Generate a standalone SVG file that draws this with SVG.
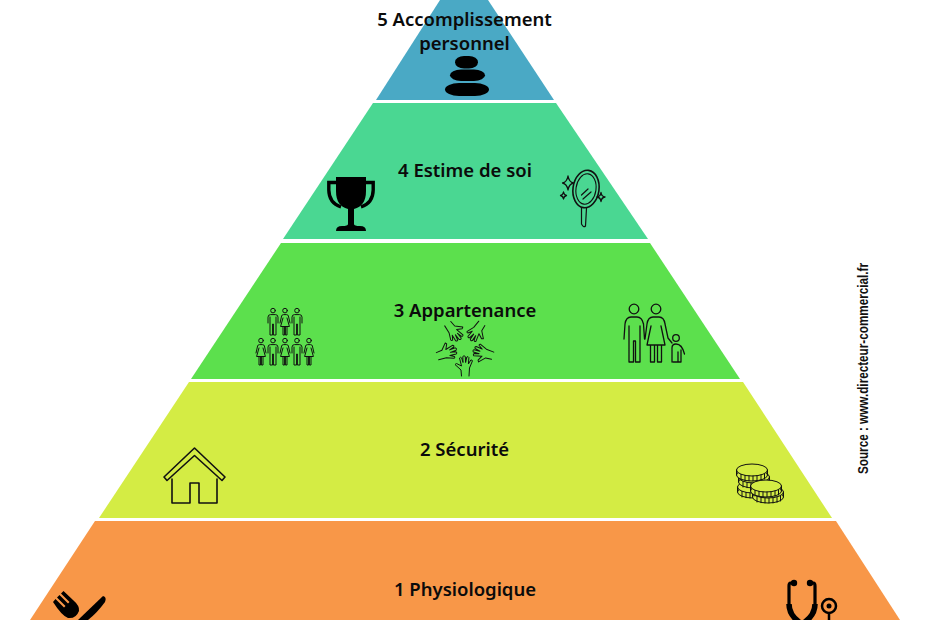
<svg xmlns="http://www.w3.org/2000/svg" xmlns:xlink="http://www.w3.org/1999/xlink" width="930" height="620" viewBox="0 0 930 620">
<style>
.lbl{font-family:"Noto Sans","Open Sans","Liberation Sans",sans-serif;font-weight:600;font-size:18.5px;fill:#0b0b0b;text-anchor:middle}
.ln{fill:none;stroke:#111;stroke-width:1.6;stroke-linejoin:round;stroke-linecap:round}
.th{fill:none;stroke:#111;stroke-width:1;stroke-linejoin:round;stroke-linecap:round}
.blk{fill:#000}
</style>
<defs>
<g id="man" class="th"><circle cx="0" cy="2.6" r="2.3"/><path d="M-5 15V9.2Q-5 6.6-2.4 6.6H2.4Q5 6.6 5 9.2V15M-3 9V27H-.4V16H.4V27H3V9"/></g>
<g id="woman" class="th"><circle cx="0" cy="2.6" r="2.3"/><path d="M-5 15L-3.4 8Q-3 6.6-1.5 6.6H1.5Q3 6.6 3.4 8L5 15M-2 10L-4.4 18.5H4.4L2 10M-2 18.5V27H-.4V18.5M.4 18.5V27H2V18.5"/></g>
<g id="hand" class="th"><path d="M-3.500 29L-4 23L-10 17.500L-8.500 16.500L-3.500 19L-5.500 11Q-4.500 9.500-3.300 11L-2 15.500L-2.200 9.500Q-1 8 .3 9.500L.6 15.500L1.800 10Q3.200 9 3.900 10.500L3.400 17L5.800 13Q7.200 12.500 7.400 14L4.500 21L4 29"/></g>
<g id="coin"><ellipse cx="0" cy="5" rx="15.500" ry="6" fill="#D4EC44" stroke="#111" stroke-width="1"/><ellipse cx="0" cy="0" rx="15.500" ry="6" fill="#D4EC44" stroke="#111" stroke-width="1"/><path d="M-15.500 0V5M-11 4.300V10M-7 5.400V10.700M-3 5.900V11M1 6V11M5 5.700V10.900M9 5V10.300M12.500 4V9M15.500 0V5" class="th"/></g>
</defs>

<g id="tier-5"><polygon points="440,0 488,0 554,100 376,100" fill="#4AA9C5"/>
<text class="lbl" x="464.500" y="26">5 Accomplissement</text><text class="lbl" x="464.500" y="50">personnel</text>
<g id="stones" class="blk"><rect x="455" y="56" width="23" height="12.500" rx="9" ry="6.200"/><rect x="450" y="69.500" width="35" height="11.500" rx="11" ry="5.700"/><rect x="445" y="83" width="44" height="13" rx="14" ry="6.500"/></g></g>

<g id="tier-4"><polygon points="373,103 556,103 648,239 283,239" fill="#4AD792"/>
<text class="lbl" x="465" y="177">4 Estime de soi</text>
<g id="trophy"><path class="blk" d="M336 177H366V191Q366 206 354 209V224Q354 226 360 226Q366 226 366 231H336Q336 226 342 226Q348 226 348 224V209Q336 206 336 191Z"/><path d="M337 182.500H328.800V190Q329 203 341 207M365 182.500H373.200V190Q373 203 361 207" fill="none" stroke="#000" stroke-width="3.400"/></g>
<g id="mirror" class="ln"><ellipse cx="586" cy="189" rx="13" ry="18.800" transform="rotate(8 586 189)"/><ellipse cx="586" cy="189" rx="10" ry="15.300" transform="rotate(8 586 189)" stroke-width="1.100"/><path d="M581.500 207.500L581.500 224Q583.500 228 585.500 226L586.500 208M581.500 195L588 189M583 199L591 192" stroke-width="1.200"/><path d="M568 176Q569 182 573.500 183Q569 184 568 190Q567 184 562.500 183Q567 182 568 176ZM563.500 192Q564 195 566.500 195.500Q564 196 563.500 199Q563 196 560.500 195.500Q563 195 563.500 192ZM601 192.500Q601.500 196.500 605 197Q601.500 197.500 601 201.500Q600.500 197.500 597 197Q600.500 196.500 601 192.500Z" stroke-width="1.300"/></g></g>

<g id="tier-3"><polygon points="281,243 650,243 740,379 191,379" fill="#5CE04D"/>
<text class="lbl" x="465" y="317">3 Appartenance</text>
<g id="crowd"><use xlink:href="#man" x="273" y="308"/><use xlink:href="#woman" x="285" y="308"/><use xlink:href="#man" x="297" y="308"/><use xlink:href="#woman" x="261" y="338"/><use xlink:href="#man" x="273" y="338"/><use xlink:href="#woman" x="285" y="338"/><use xlink:href="#man" x="297" y="338"/><use xlink:href="#woman" x="309" y="338"/></g>
<g id="hands" transform="translate(465 347)"><use xlink:href="#hand"/><use xlink:href="#hand" transform="rotate(72)"/><use xlink:href="#hand" transform="rotate(144)"/><use xlink:href="#hand" transform="rotate(216)"/><use xlink:href="#hand" transform="rotate(288)"/></g>
<g id="family" class="ln" style="stroke-width:1.300"><circle cx="634" cy="309" r="4.800"/><circle cx="656" cy="309" r="4.800"/><circle cx="676" cy="338" r="3.300"/><path d="M624 339L625 324Q626 317 631 317H637Q642 317 643.500 324L644.500 339M629 326V362H633.500V341H635.500V362H640V326M645 339L647 324Q648 317 653 317H659Q664 317 665 324L668 338M651 326L647 345H665L661 326M650.500 345V362H654.500V345M657.500 345V362H661.500V345M668 338L672 343M672 362V348Q672 344 676 344Q682 344 684.500 354M673 362H678V352M678 362H681V350"/></g></g>

<g id="tier-2"><polygon points="189,382 743,382 832,518 99,518" fill="#D4EC44"/>
<text class="lbl" x="464.500" y="456">2 Sécurité</text>
<g id="house" class="ln"><path d="M172 479V503H190V483H199V503H217V479M164 477L194.500 448L225 477L222 480.500L194.500 455.500L167 480.500Z"/></g>
<g id="coins"><use xlink:href="#coin" x="753" y="487"/><use xlink:href="#coin" x="754" y="477"/><use xlink:href="#coin" x="752" y="470"/><use xlink:href="#coin" x="768" y="492"/><use xlink:href="#coin" x="766" y="486"/></g></g>

<g id="tier-1"><polygon points="95,521 836,521 900,620 30,620" fill="#F89748"/>
<text class="lbl" x="465" y="596">1 Physiologique</text>
<g id="cutlery" class="blk"><path d="M103 596Q107 597 105 602Q97 613 88 620H78Z"/><path d="M53 602L55.500 599L64 607.500L65.500 606L57 597.500L59.500 595L68 603.500L69.500 602L61 593.500L63.500 591L73 600Q80 606 79 611Q76 619 68 618Q62 616 53 602Z"/></g>
<g id="stethoscope"><path d="M794 583H790.500Q789 583 789 586V604M815 604V586Q815 583 813.500 583H810" fill="none" stroke="#000" stroke-width="3.200"/><path d="M789 604Q789 616 802 624Q815 616 815 604" fill="none" stroke="#000" stroke-width="5.500"/><circle cx="794" cy="583" r="3.200" class="blk"/><circle cx="810" cy="583" r="3.200" class="blk"/><circle cx="829" cy="606" r="7" fill="none" stroke="#000" stroke-width="2.500"/><circle cx="829" cy="606" r="2.500" class="blk"/><path d="M829 613V620" stroke="#000" stroke-width="2.500"/></g></g>

<text id="source" transform="translate(868 474) rotate(-90)" font-family="'Liberation Sans',Arial,sans-serif" font-weight="700" font-size="14.500" fill="#111" textLength="211" lengthAdjust="spacingAndGlyphs">Source : www.directeur-commercial.fr</text>
<g id="connectors"/>
</svg>
